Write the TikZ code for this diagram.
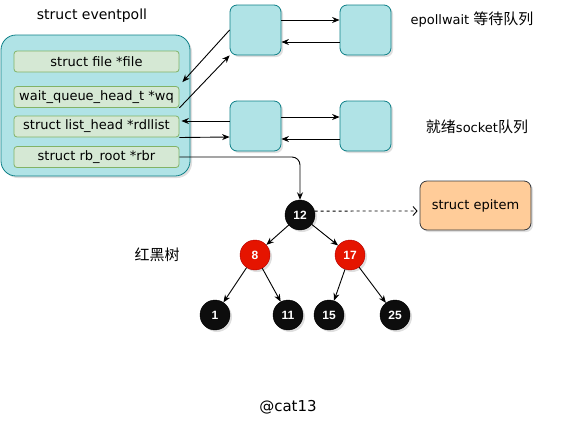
\documentclass[tikz,border=0pt]{standalone}
\usepackage{fontspec}
\setmainfont{DejaVu Sans}
\newfontfamily\cjk{Noto Sans CJK SC}
\newfontfamily\numfont{Liberation Sans}
\usepackage{xcolor}
\usepackage{tikz}
\usetikzlibrary{shapes,arrows.meta,positioning,calc,shadows}

\definecolor{queuefill}{HTML}{B0E3E6}
\definecolor{queueline}{HTML}{0E8088}
\definecolor{fieldfill}{HTML}{D5E8D4}
\definecolor{fieldline}{HTML}{82B366}
\definecolor{redfill}{HTML}{E51400}
\definecolor{redline}{HTML}{B20000}
\definecolor{itemfill}{HTML}{FFCC99}
\definecolor{itemline}{HTML}{36393D}

\newcommand{\zh}[1]{{\cjk\fontsize{15}{17}\selectfont #1}}

\begin{document}
\begin{tikzpicture}[x=1pt, y=-1pt, font=\fontsize{13}{15}\selectfont]
  % Define styles
  \tikzstyle{boxshadow} = [drop shadow={opacity=0.25, shadow xshift=2pt, shadow yshift=-2pt}]
  \tikzstyle{epoll} = [rectangle, draw=queueline, fill=queuefill, line width=0.8pt, rounded corners=15pt, minimum width=189pt, minimum height=141pt, boxshadow]
  \tikzstyle{field} = [rectangle, draw=fieldline, fill=fieldfill, line width=0.8pt, rounded corners=3pt, minimum width=165pt, minimum height=21pt, inner sep=0pt]
  \tikzstyle{queue} = [rectangle, draw=queueline, fill=queuefill, line width=0.8pt, rounded corners=7pt, minimum width=51pt, minimum height=50pt, boxshadow]
  \tikzstyle{item} = [rectangle, draw=itemline, fill=itemfill, line width=0.8pt, rounded corners=7pt, minimum width=111pt, minimum height=49pt, boxshadow]
  \tikzstyle{rbnode} = [circle, draw=black, fill=black!95, text=white, minimum size=30pt, inner sep=0pt, font=\numfont\bfseries\fontsize{12}{14}\selectfont, boxshadow]
  \tikzstyle{rednode} = [rbnode, draw=redline, fill=redfill]
  \tikzstyle{arrow} = [line width=0.9pt, -{Stealth[length=7.5pt, width=6pt]}]
  \tikzstyle{label} = [font=\fontsize{13}{15}\selectfont, text centered]

  \useasboundingbox (0,0) rectangle (562,432);

  % eventpoll
  \node [epoll] (eventpoll) at (95.5,105.5) {};
  \node [label, font=\fontsize{14}{16}\selectfont] (title) at (92,16) {struct eventpoll};
  \node [field] (file) at (96.5,61.5) {struct file *file};
  \node [field] (wq) at (96.5,97) {wait\_queue\_head\_t *wq};
  \node [field] (rdllist) at (96.5,126.5) {struct list\_head *rdllist};
  \node [field] (rbr) at (96.5,157) {struct rb\_root *rbr};

  % Queues
  \node [queue] (waitA) at (255.5,30) {};
  \node [queue] (waitB) at (365.5,30) {};
  \node [queue] (readyA) at (255.5,126) {};
  \node [queue] (readyB) at (365.5,126) {};
  \node [label] (waitlabel) at (472,20) {epollwait \zh{等待队列}};
  \node [label] (readylabel) at (477,127) {\zh{就绪}socket\zh{队列}};

  % Red-black tree
  \node [rbnode] (n12) at (300,215) {12};
  \node [rednode] (n8) at (255,255) {8};
  \node [rednode] (n17) at (350,255) {17};
  \node [rbnode] (n1) at (215,315) {1};
  \node [rbnode] (n11) at (288,315) {11};
  \node [rbnode] (n15) at (329,315) {15};
  \node [rbnode] (n25) at (395,315) {25};
  \node [label] (treelabel) at (157,255) {\zh{红黑树}};
  \node [item] (epitem) at (475.5,205.5) {struct epitem};

  \node [label, font=\fontsize{15}{17}\selectfont] (author) at (288,407) {@cat13};

  % Queue links
  \draw [arrow] ([yshift=10pt]waitA.east) -- ([yshift=10pt]waitB.west);
  \draw [arrow] ([yshift=-12pt]waitB.west) -- ([yshift=-12pt]waitA.east);
  \draw [arrow] ([yshift=9pt]readyA.east) -- ([yshift=9pt]readyB.west);
  \draw [arrow] ([yshift=-13pt]readyB.west) -- ([yshift=-13pt]readyA.east);

  % eventpoll links
  \draw [arrow] (waitA.west) -- ([xshift=3pt,yshift=4pt]wq.north east);
  \draw [arrow] (wq.south east) -- (waitA.south west);
  \draw [arrow] ([yshift=5pt]readyA.west) -- ([xshift=2pt,yshift=5.5pt]rdllist.east);
  \draw [arrow] ([yshift=-11pt]rdllist.east) -- ([yshift=-11pt]readyA.west);
  \draw [arrow, rounded corners=8pt] (rbr.east) -| (n12.north);

  % Tree edges
  \draw [arrow] (n12) -- (n8);
  \draw [arrow] (n12) -- (n17);
  \draw [arrow] (n8) -- (n1);
  \draw [arrow] (n8) -- (n11);
  \draw [arrow] (n17) -- (n15);
  \draw [arrow] (n17) -- (n25);
  \draw [line width=0.9pt, dashed, -{Straight Barb[length=4pt, width=9pt]}, shorten >=2pt] (n12.15) -- ([yshift=-5.5pt]epitem.west);

\end{tikzpicture}
\end{document}
